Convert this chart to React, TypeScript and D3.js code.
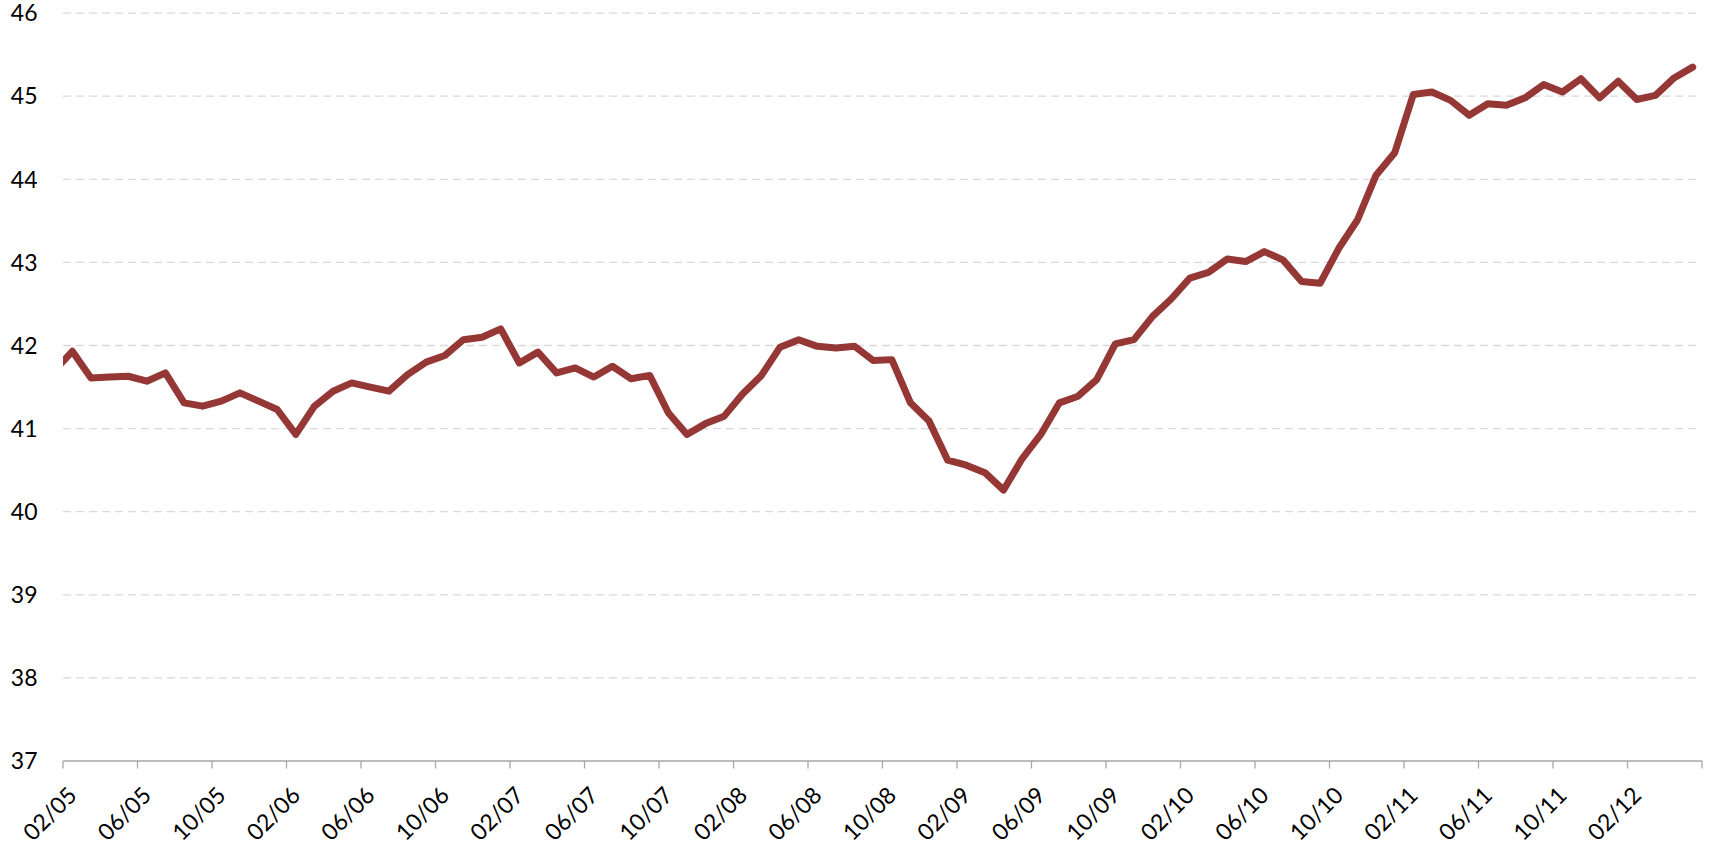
import React from "react";
import * as d3 from "d3";

// Monthly series, 02/05 .. 05/12 (88 months); a preceding month (01/05) is partially visible at the left edge
const startYear = 2005;
const startMonth = 2;
const preValue = 41.69;
const values: number[] = [
  41.93, 41.61, 41.62, 41.63, 41.57, 41.67, 41.31, 41.27, 41.33, 41.43,
  41.33, 41.23, 40.93, 41.27, 41.45, 41.55, 41.5, 41.45, 41.65, 41.8,
  41.88, 42.07, 42.1, 42.2, 41.79, 41.92, 41.67, 41.73, 41.62, 41.75,
  41.6, 41.64, 41.19, 40.93, 41.06, 41.15, 41.42, 41.64, 41.98, 42.07,
  41.99, 41.97, 41.99, 41.82, 41.83, 41.31, 41.09, 40.62, 40.56, 40.47,
  40.26, 40.64, 40.93, 41.31, 41.39, 41.59, 42.02, 42.07, 42.35, 42.56,
  42.81, 42.88, 43.04, 43.01, 43.13, 43.03, 42.77, 42.75, 43.17, 43.51,
  44.05, 44.32, 45.02, 45.05, 44.95, 44.77, 44.91, 44.89, 44.98, 45.14,
  45.05, 45.21, 44.98, 45.18, 44.96, 45.01, 45.22, 45.35,
];
const yTicks: number[] = [37, 38, 39, 40, 41, 42, 43, 44, 45, 46];
const labelEvery = 4;

function monthLabel(i: number): string {
  const m0 = startMonth - 1 + i;
  const y = startYear + Math.floor(m0 / 12);
  const m = (m0 % 12) + 1;
  return `${String(m).padStart(2, "0")}/${String(y % 100).padStart(2, "0")}`;
}

export default function App() {
  const W = 1714;
  const H = 845;
  const left = 63;
  const right = 1702;
  const top = 13.1;
  const bottom = 761;
  const n = values.length;

  const x = d3.scaleLinear().domain([0, n]).range([left, right]);
  const y = d3.scaleLinear().domain([37, 46]).range([bottom, top]);

  const pts: [number, number][] = [[-1, preValue], ...values.map((v, i) => [i, v] as [number, number])];
  const line = d3
    .line<[number, number]>()
    .x((d) => x(d[0] + 0.5))
    .y((d) => y(d[1]));

  const tickIdx = d3.range(0, n + 1, labelEvery);
  const labelIdx = d3.range(0, n, labelEvery);
  const font = "Lato, 'Open Sans', sans-serif";

  return (
    <svg
      width={W}
      height={H}
      style={{ position: "absolute", left: 0, top: 0, background: "#fff" }}
    >
      <defs>
        <clipPath id="plotClip">
          <rect x={left} y={0} width={right - left} height={H} />
        </clipPath>
      </defs>
      {yTicks.map((t) => (
        <g key={t}>
          {t !== 37 && (
            <line
              x1={left}
              x2={right - 5}
              y1={y(t)}
              y2={y(t)}
              stroke="#d9d9d9"
              strokeWidth={1.3}
              strokeDasharray="8,5"
            />
          )}
          <text
            x={37.5}
            y={y(t)}
            dy="0.36em"
            textAnchor="end"
            fontFamily={font}
            fontSize={23}
            fill="#000"
          >
            {t}
          </text>
        </g>
      ))}
      <line x1={left} x2={right} y1={bottom} y2={bottom} stroke="#a6a6a6" strokeWidth={1.3} />
      {tickIdx.map((i) => (
        <line
          key={i}
          x1={x(i)}
          x2={x(i)}
          y1={bottom}
          y2={bottom + 7.5}
          stroke="#a6a6a6"
          strokeWidth={1.3}
        />
      ))}
      {labelIdx.map((i) => (
        <text
          key={i}
          transform={`translate(${x(i + 0.5)},${bottom + 30}) rotate(-45)`}
          dy="0.36em"
          textAnchor="end"
          fontFamily={font}
          fontSize={23}
          fill="#000"
        >
          {monthLabel(i)}
        </text>
      ))}
      <path
        d={line(pts) || ""}
        fill="none"
        stroke="#953735"
        strokeWidth={7}
        strokeLinejoin="round"
        strokeLinecap="round"
        clipPath="url(#plotClip)"
      />
    </svg>
  );
}
